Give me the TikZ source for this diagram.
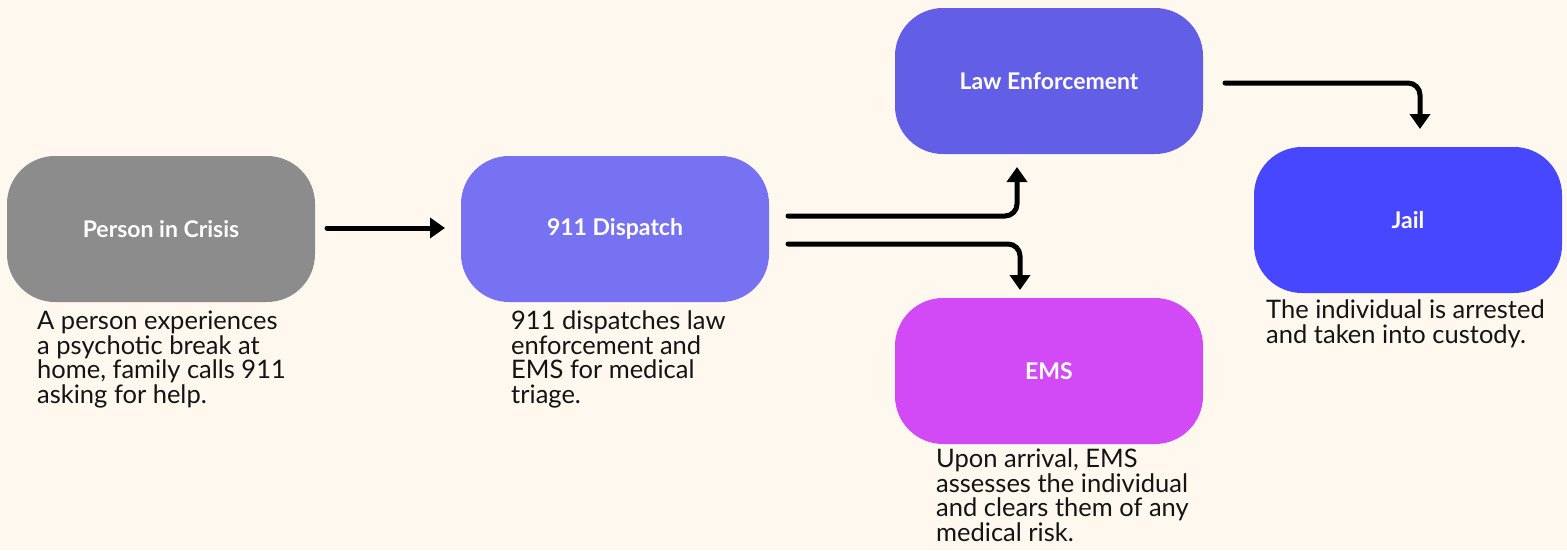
\documentclass[tikz,border=0pt]{standalone}
\usepackage{fontspec}
\setmainfont{Lato}
\usetikzlibrary{arrows.meta}
\definecolor{bg}{HTML}{FEF8EE}
\definecolor{crisis}{HTML}{8C8C8C}
\definecolor{dispatch}{HTML}{7772F2}
\definecolor{law}{HTML}{625EE6}
\definecolor{ems}{HTML}{D24AF6}
\definecolor{jail}{HTML}{4747FF}
\definecolor{ink}{HTML}{141414}
\tikzset{
  pill/.style={rectangle, rounded corners=48pt, minimum width=308pt, minimum height=146pt,
    inner sep=0pt, text=white, font=\fontsize{23}{26}\selectfont\bfseries},
  desc/.style={anchor=north west, align=left, inner sep=0pt, text=ink,
    font=\fontsize{25.5}{24.5}\selectfont},
  flow/.style={line width=5pt, rounded corners=12pt, line cap=round,
    -{Triangle[length=15pt,width=20pt]}}
}
\begin{document}
\begin{tikzpicture}[x=1pt,y=-1pt]
\fill[bg] (0,0) rectangle (1567,550);
\useasboundingbox (0,0) rectangle (1567,550);
\node[pill, fill=crisis] (crisis) at (161,229) {Person in Crisis};
\node[pill, fill=dispatch] (dispatch) at (615,229) {911 Dispatch};
\node[pill, fill=law] (law) at (1049,81) {Law Enforcement};
\node[pill, fill=ems] (ems) at (1049,371) {EMS};
\node[pill, fill=jail] (jail) at (1408,220) {Jail};

\node[desc] (d1) at (37,311) {A person experiences\\a psychotic break at\\home, family calls 911\\asking for help.};
\node[desc] (d2) at (511,311) {911 dispatches law\\enforcement and\\EMS for medical\\triage.};
\node[desc] (d3) at (936,449) {Upon arrival, EMS\\assesses the individual\\and clears them of any\\medical risk.};
\node[desc] (d4) at (1266,300) {The individual is arrested\\and taken into custody.};

\coordinate (a1s) at (327,228);
\coordinate (a1e) at (445,228);
\draw[flow] (a1s) -- (a1e);
\coordinate (a2s) at (788,216);
\draw[flow] (a2s) -- (1017,216) -- (1017,167);
\coordinate (a3s) at (788,244);
\draw[flow] (a3s) -- (1020,244) -- (1020,290);
\coordinate (a4s) at (1225,83);
\draw[flow] (a4s) -- (1420,83) -- (1420,129);
\end{tikzpicture}
\end{document}
